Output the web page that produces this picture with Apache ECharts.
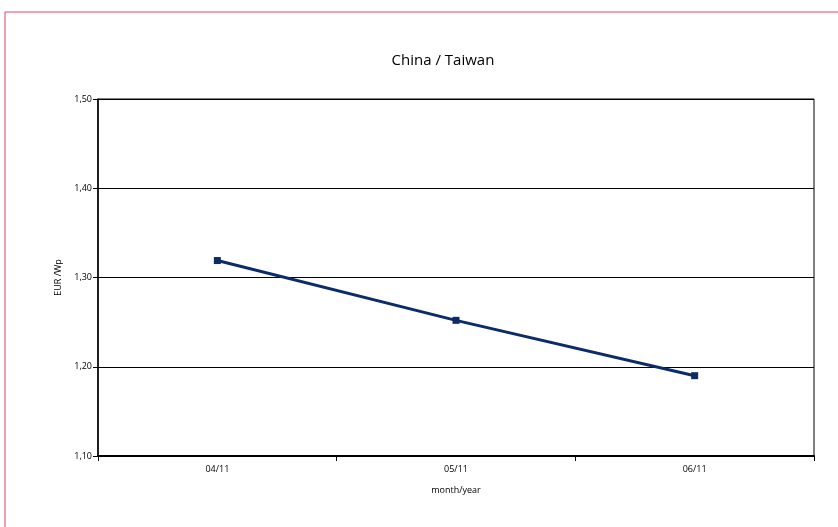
<!DOCTYPE html>
<html>
<head>
<meta charset="utf-8">
<script src="https://cdn.jsdelivr.net/npm/echarts@6/dist/echarts.min.js"></script>
<style>
  html, body { margin: 0; padding: 0; background: #fff; }
  #chart { width: 838px; height: 527px; }
</style>
</head>
<body>
<div id="chart"></div>
<script>
const months = ['04/11', '05/11', '06/11'];
const prices = [1.319, 1.252, 1.190];
const yTicks = [1.10, 1.20, 1.30, 1.40, 1.50];

const chart = echarts.init(document.getElementById('chart'));
const font = 'Open Sans';

chart.setOption({
    backgroundColor: '#fff',
    animation: false,
    title: {
        text: 'China / Taiwan',
        left: 438,
        top: 48,
        textAlign: 'center',
        textStyle: { fontFamily: font, fontSize: 15, fontWeight: 'normal', color: '#000' }
    },
    graphic: [{
        type: 'rect',
        shape: { x: 5, y: 12, width: 900, height: 600 },
        style: { fill: 'none', stroke: '#e4475c', lineWidth: 1 },
        silent: true
    }],
    grid: { left: 98, right: 24, top: 99, bottom: 71, show: true, borderColor: '#000', borderWidth: 1 },
    xAxis: {
        type: 'category',
        data: months,
        boundaryGap: true,
        name: 'month/year',
        nameLocation: 'middle',
        nameGap: 30,
        nameTextStyle: { fontFamily: font, fontSize: 9, color: '#000' },
        axisLine: { lineStyle: { color: '#000', width: 2 } },
        axisTick: { show: true, length: 5, lineStyle: { color: '#000' } },
        axisLabel: { fontFamily: font, fontSize: 9, color: '#000', margin: 9 },
        splitLine: { show: false }
    },
    yAxis: {
        type: 'value',
        min: yTicks[0],
        max: yTicks[yTicks.length - 1],
        interval: 0.1,
        name: 'EUR /Wp',
        nameLocation: 'middle',
        nameGap: 31,
        nameTextStyle: { fontFamily: font, fontSize: 9, color: '#000' },
        axisLine: { show: true, lineStyle: { color: '#000', width: 1.5 } },
        axisTick: { show: true, length: 5, lineStyle: { color: '#000' } },
        axisLabel: {
            fontFamily: font, fontSize: 9, color: '#000', margin: 6,
            formatter: v => v.toFixed(2).replace('.', ',')
        },
        splitLine: { show: true, lineStyle: { color: '#000', width: 1 } }
    },
    series: [{
        type: 'line',
        data: prices,
        symbol: 'rect',
        symbolSize: 7,
        lineStyle: { color: '#0c2c69', width: 3 },
        itemStyle: { color: '#0c2c69' }
    }]
});
</script>
</body>
</html>
